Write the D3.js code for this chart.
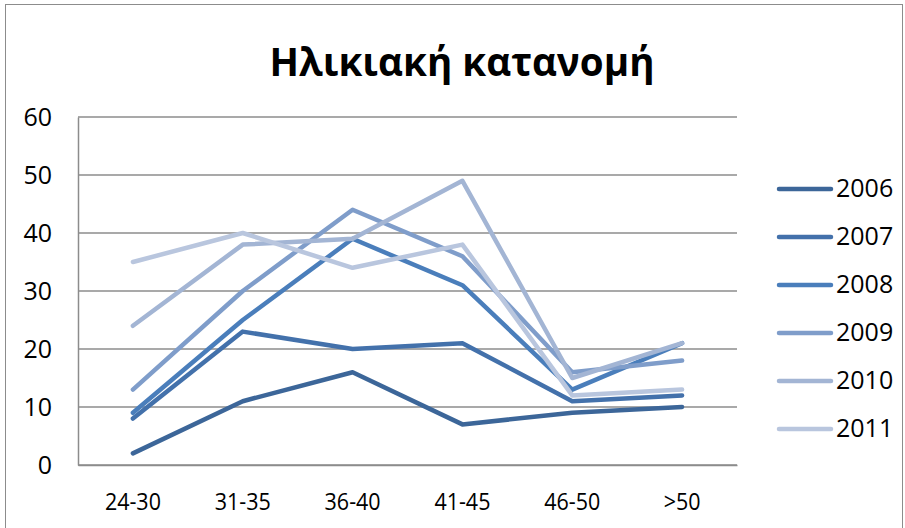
<!DOCTYPE html>
<html><head><meta charset="utf-8">
<script src="https://cdn.jsdelivr.net/npm/d3@7"></script>
<style>body{margin:0;background:#fff}svg{display:block}text{font-family:"Open Sans","Noto Sans",sans-serif}</style>
</head><body>
<script>
const categories = ["24-30","31-35","36-40","41-45","46-50",">50"];
const seriesNames = ["2006","2007","2008","2009","2010","2011"];
const v2006 = [2,11,16,7,9,10];
const v2007 = [8,23,20,21,11,12];
const v2008 = [9,25,39,31,13,21];
const v2009 = [13,30,44,36,16,18];
const v2010 = [24,38,39,49,15,21];
const v2011 = [35,40,34,38,12,13];
const yTicks = [0,10,20,30,40,50,60];
const title = "Ηλικιακή κατανομή";
const colors = ["#3C6699","#4371AB","#4A7EBB","#7F9DCA","#A3B5D4","#B9C6DE"];
const allValues = [v2006,v2007,v2008,v2009,v2010,v2011];

const W=905,H=528;
const svg=d3.select("body").append("svg").attr("width",W).attr("height",H);
svg.append("rect").attr("x",5.5).attr("y",4.5).attr("width",897).attr("height",530)
  .attr("fill","#fff").attr("stroke","#8c8c8c").attr("stroke-width",1);

const plot={l:78,r:737,t:117,b:465};
const x=d3.scaleBand().domain(categories).range([plot.l,plot.r]);
const y=d3.scaleLinear().domain([0,60]).range([plot.b,plot.t]);

svg.append("text").attr("x",462).attr("y",76).attr("text-anchor","middle")
  .attr("font-size",40).attr("font-weight","bold").attr("fill","#000")
  .attr("textLength",385).attr("lengthAdjust","spacingAndGlyphs").text(title);

// gridlines
svg.append("g").selectAll("line").data(yTicks).join("line")
  .attr("x1",plot.l).attr("x2",plot.r).attr("y1",d=>y(d)).attr("y2",d=>y(d))
  .attr("stroke","#8c8c8c").attr("stroke-width",1.5);
// y axis
const ya=svg.append("g").attr("transform",`translate(${plot.l},0)`)
  .call(d3.axisLeft(y).tickValues(yTicks).tickSize(0).tickPadding(26));
ya.select(".domain").attr("stroke","#8c8c8c").attr("stroke-width",1.5);
ya.selectAll("text").attr("font-size",25).attr("fill","#000");
// x axis
const xa=svg.append("g").attr("transform",`translate(0,${plot.b})`)
  .call(d3.axisBottom(x).tickSize(0).tickPadding(28));
xa.select(".domain").attr("stroke","#8c8c8c").attr("stroke-width",1.5);
const xt=xa.selectAll("text").attr("font-size",24).attr("fill","#000");
const factor=56/xt.node().getComputedTextLength();
xt.each(function(){const w=this.getComputedTextLength();
  d3.select(this).attr("textLength",w*factor).attr("lengthAdjust","spacingAndGlyphs");});

const line=d3.line().x((d,i)=>x(categories[i])+x.bandwidth()/2).y(d=>y(d));
seriesNames.forEach((name,k)=>{
  svg.append("path").datum(allValues[k]).attr("d",line).attr("fill","none")
    .attr("stroke",colors[k]).attr("stroke-width",4.5)
    .attr("stroke-linejoin","round").attr("stroke-linecap","round");
});

// legend
const lg=svg.append("g");
seriesNames.forEach((name,k)=>{
  const yy=189+k*48;
  lg.append("line").attr("x1",779).attr("x2",831).attr("y1",yy).attr("y2",yy)
    .attr("stroke",colors[k]).attr("stroke-width",4.5).attr("stroke-linecap","round");
  lg.append("text").attr("x",836).attr("y",yy+8).attr("font-size",25).attr("fill","#000").text(name);
});
</script>
</body></html>
